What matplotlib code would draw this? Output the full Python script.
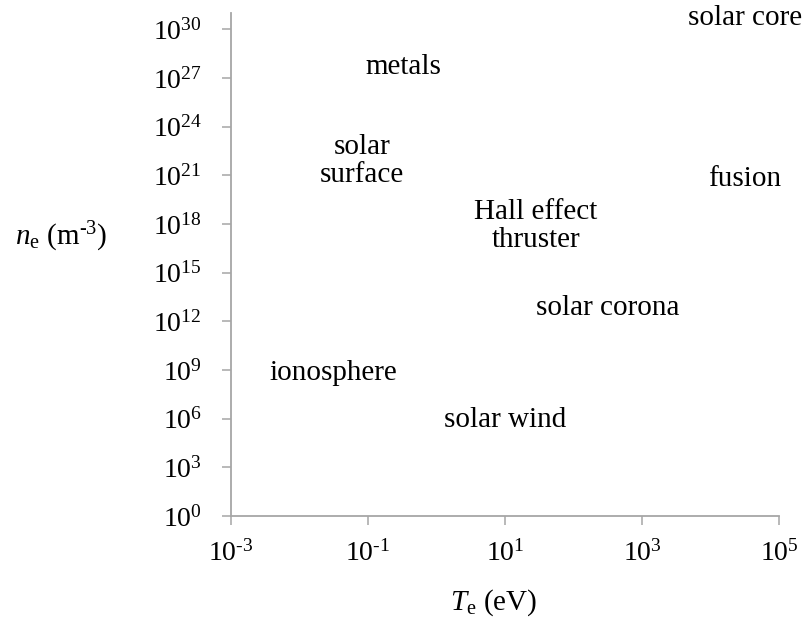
import numpy as np
import matplotlib
matplotlib.use('Agg')
import matplotlib.pyplot as plt
from matplotlib.ticker import FixedLocator, FuncFormatter

matplotlib.rcParams['font.family'] = 'Liberation Serif'
matplotlib.rcParams['mathtext.fontset'] = 'custom'
matplotlib.rcParams['mathtext.rm'] = 'Liberation Serif'
matplotlib.rcParams['mathtext.it'] = 'Liberation Serif:italic'

# plasma regimes: electron temperature (eV) and density (m^-3), as log10
names = ['solar core', 'metals', 'solar\nsurface', 'fusion', 'Hall effect\nthruster',
         'solar corona', 'ionosphere', 'solar wind']
log_te = [4.5, -0.49, -1.09, 4.5, 1.45, 2.5, -1.5, 1.0]
log_ne = [30.7, 27.7, 21.9, 20.8, 17.9, 12.8, 8.8, 5.9]

x_ticks = [-3, -1, 1, 3, 5]
y_ticks = list(range(0, 31, 3))

fig = plt.figure(figsize=(8.06, 6.2), dpi=100)
ax = fig.add_axes([0.2866, 0.1677, 0.6799, 0.8113])

ax.set_xscale('log')
ax.set_yscale('log')
ax.set_xlim(1e-3, 1e5)
ax.set_ylim(1e0, 1e31)

for n, lx, ly in zip(names, log_te, log_ne):
    ax.text(10**lx, 10**ly, n, ha='center', va='center', fontsize=21,
            linespacing=1.1)

ax.xaxis.set_major_locator(FixedLocator([10.0**k for k in x_ticks]))
ax.yaxis.set_major_locator(FixedLocator([10.0**k for k in y_ticks]))
ax.xaxis.set_minor_locator(FixedLocator([]))
ax.yaxis.set_minor_locator(FixedLocator([]))
fmt = FuncFormatter(lambda v, p: r'$\mathregular{10^{%s}}$' % str(int(round(np.log10(v)))).replace('-', '\u2010'))
ax.xaxis.set_major_formatter(fmt)
ax.yaxis.set_major_formatter(fmt)

for s in ['top', 'right']:
    ax.spines[s].set_visible(False)
for s in ['left', 'bottom']:
    ax.spines[s].set_color('#a6a6a6')
    ax.spines[s].set_linewidth(1.3)
ax.tick_params(axis='both', which='major', color='#a6a6a6', width=1.1,
               length=6.5, labelsize=20)
ax.tick_params(axis='x', pad=11)
ax.tick_params(axis='y', pad=14.5)

ax.set_xlabel('$T_\\mathregular{e}$ (eV)', fontsize=21)
ax.xaxis.set_label_coords(0.48, -0.141)
fig.text(0.076, 0.618, '$n_\\mathregular{e}$ (m$^\\mathregular{\u20103}$)', fontsize=21,
         ha='center', va='center')

plt.savefig('out.png', dpi=100)
